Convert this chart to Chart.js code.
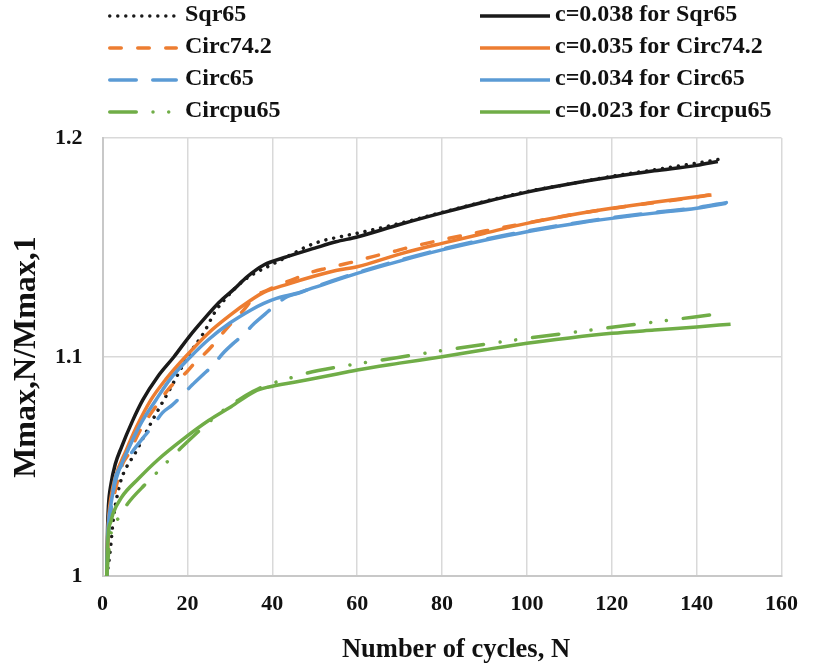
<!DOCTYPE html>
<html lang="en">
<head>
<meta charset="UTF-8">
<title>Mmax,N/Mmax,1 vs number of cycles</title>
<script src="https://cdn.jsdelivr.net/npm/chart.js"></script>
<style>
    html, body { margin: 0; padding: 0; background: #fff; }
    #wrap { width: 813px; height: 670px; }
</style>
</head>
<body>
<div id="wrap"><canvas id="chart" width="813" height="670"></canvas></div>
<script>
// series labels (legend order, read row by row)
const seriesLabels = [
    'Sqr65', 'c=0.038 for Sqr65',
    'Circ74.2', 'c=0.035 for Circ74.2',
    'Circ65', 'c=0.034 for Circ65',
    'Circpu65', 'c=0.023 for Circpu65'
];

// Sqr65 test (dotted) and its fit
const sqr65N = [1, 1.6, 2, 2.5, 3, 3.5, 4.5, 7.9, 11.8, 16, 20.3, 24, 26.5, 29.6, 32.7, 35.8, 38.9, 42, 45.1, 48.1, 51.2, 55, 60, 70, 80, 90, 100, 110, 120, 130, 140, 146];
const sqr65M = [1.0, 1.008, 1.015, 1.025, 1.032, 1.037, 1.0446, 1.0568, 1.0712, 1.0857, 1.1009, 1.1115, 1.1205, 1.128, 1.134, 1.1382, 1.1412, 1.1443, 1.1474, 1.1504, 1.1527, 1.1545, 1.1565, 1.161, 1.166, 1.171, 1.1755, 1.179, 1.1825, 1.1855, 1.1885, 1.1905];
const fitSqr65N = [1, 1.2, 1.4, 2, 3, 4.5, 7, 9.5, 13, 16.8, 20.3, 24, 27.5, 31, 34, 38, 43.5, 50, 55, 60, 70, 80, 90, 100, 110, 120, 130, 140, 145];
const fitSqr65M = [1.0, 1.022, 1.032, 1.042, 1.051, 1.059, 1.0705, 1.0804, 1.091, 1.1, 1.109, 1.1175, 1.125, 1.131, 1.1365, 1.142, 1.1458, 1.1497, 1.1526, 1.1548, 1.1605, 1.1658, 1.1708, 1.1753, 1.179, 1.1822, 1.185, 1.1875, 1.1893];

// Circ74.2 test (dashed) and its fit
const circ742N = [1, 1.3, 2, 3, 4.8, 6, 9, 13.7, 15.7, 19.9, 23, 24.2, 29.6, 33.5, 35.8, 38.9, 43.5, 46.6, 49.7, 52.8, 56, 59.3, 62, 65.2, 68.3, 71.3, 80, 90, 100, 110, 120, 130, 140, 144.5];
const circ742M = [1.0, 1.015, 1.029, 1.039, 1.0514, 1.0553, 1.067, 1.0804, 1.0857, 1.0933, 1.1, 1.1017, 1.1138, 1.122, 1.1275, 1.1306, 1.1344, 1.1367, 1.139, 1.1405, 1.142, 1.1435, 1.145, 1.1466, 1.148, 1.1496, 1.1535, 1.1575, 1.1612, 1.1648, 1.1678, 1.1705, 1.173, 1.1745];
const fitCirc742N = [1, 1.2, 1.5, 2, 3, 5.6, 8, 11.4, 15, 19.5, 25, 30, 35, 38, 43.5, 50, 55, 60, 70, 80, 90, 100, 110, 120, 130, 140, 143.5];
const fitCirc742M = [1.0, 1.018, 1.028, 1.036, 1.045, 1.0575, 1.068, 1.0804, 1.09, 1.1, 1.111, 1.119, 1.126, 1.1295, 1.1332, 1.137, 1.1395, 1.1412, 1.147, 1.1519, 1.1565, 1.161, 1.1647, 1.1679, 1.1707, 1.1732, 1.174];

// Circ65 test (long dash) and its fit
const circ65N = [1, 1.3, 2, 2.9, 4, 5.6, 7.3, 9.5, 11.6, 14.1, 16.4, 18.7, 21.1, 23.6, 26.1, 28.4, 30.7, 33.1, 35.8, 38.3, 40.8, 43.5, 46.6, 50, 60, 70, 80, 90, 100, 110, 120, 130, 140, 147];
const circ65M = [1.0, 1.015, 1.03, 1.0438, 1.049, 1.053, 1.0575, 1.063, 1.0678, 1.0745, 1.078, 1.0823, 1.0872, 1.0918, 1.0963, 1.1017, 1.106, 1.11, 1.1154, 1.1196, 1.1238, 1.1275, 1.1294, 1.132, 1.1385, 1.1442, 1.1493, 1.1537, 1.1575, 1.1608, 1.1636, 1.166, 1.1682, 1.1705];
const fitCirc65N = [1, 1.2, 1.5, 2, 3, 6, 9, 12.6, 16, 20.7, 25, 30, 35, 38, 41, 45.8, 50, 60, 70, 80, 90, 100, 110, 120, 130, 140, 147];
const fitCirc65M = [1.0, 1.017, 1.026, 1.033, 1.043, 1.0575, 1.0695, 1.0804, 1.09, 1.1, 1.108, 1.1155, 1.1215, 1.1245, 1.1268, 1.1291, 1.1318, 1.1382, 1.1438, 1.1489, 1.1533, 1.1572, 1.1605, 1.1633, 1.1657, 1.1679, 1.1702];

// Circpu65 test (long dash dot dot) and its fit
const circpu65N = [1, 1.5, 2.1, 3.9, 6, 10.3, 13, 15.7, 18.4, 23, 25.9, 28.8, 32, 35.4, 37.7, 41.2, 44.7, 48.1, 55.1, 65.8, 79.9, 97.3, 115, 132.6, 146.5];
const circpu65M = [1.0, 1.012, 1.0203, 1.0268, 1.0332, 1.0423, 1.0476, 1.053, 1.0583, 1.0667, 1.0716, 1.0761, 1.0803, 1.0842, 1.0864, 1.0887, 1.0907, 1.0926, 1.0953, 1.0986, 1.1029, 1.1078, 1.1123, 1.1166, 1.12];
const fitCircpu65N = [1, 1.15, 1.35, 2, 2.5, 4.5, 8.5, 13, 19, 25, 30.3, 35.8, 38.9, 45.8, 55.3, 60, 70, 80, 90, 100, 110, 120, 130, 140, 148];
const fitCircpu65M = [1.0, 1.01, 1.019, 1.025, 1.0286, 1.036, 1.0445, 1.053, 1.0625, 1.071, 1.0773, 1.0842, 1.0862, 1.0887, 1.0922, 1.0941, 1.0972, 1.1001, 1.1033, 1.1063, 1.1087, 1.1108, 1.1123, 1.1137, 1.115];

// axis ticks and titles
const xMin = 0, xMax = 160, xStep = 20;
const yMin = 1, yMax = 1.2, yStep = 0.1;
const xTitle = 'Number of cycles, N';
const yTitle = 'Mmax,N/Mmax,1';

function pts(xs, ys) {
    return xs.map((x, i) => ({ x: x, y: ys[i] }));
}

const BLACK = '#1a1a1a';
const ORANGE = '#ED7D31';
const BLUE = '#5B9BD5';
const GREEN = '#70AD47';
const TEXT = '#111';
const serif = '"Liberation Serif", "Times New Roman", serif';

function series(i, xs, ys, color, dash) {
    return {
        label: seriesLabels[i],
        data: pts(xs, ys),
        borderColor: color,
        backgroundColor: color,
        borderWidth: 3.5,
        borderDash: dash,
        borderCapStyle: dash.length ? 'round' : 'butt',
        fill: false,
        order: 7 - i
    };
}

const datasets = [
    series(0, sqr65N, sqr65M, BLACK, [0.01, 8]),
    series(1, fitSqr65N, fitSqr65M, BLACK, []),
    series(2, circ742N, circ742M, ORANGE, [11.5, 16.5]),
    series(3, fitCirc742N, fitCirc742M, ORANGE, []),
    series(4, circ65N, circ65M, BLUE, [26.5, 16.5]),
    series(5, fitCirc65N, fitCirc65M, BLUE, []),
    series(6, circpu65N, circpu65M, GREEN, [26.5, 16.75, 0.01, 15.7, 0.01, 17]),
    series(7, fitCircpu65N, fitCircpu65M, GREEN, [])
];

// two-column legend above the plot, plus the x title which sits a bit right of centre
const chartDecor = {
    id: 'chartDecor',
    afterDraw(chart) {
        const ctx = chart.ctx;
        const cols = [{ x: 108, tx: 185 }, { x: 480, tx: 555 }];
        ctx.save();
        chart.data.datasets.forEach((ds, i) => {
            const c = cols[i % 2];
            const y = 16 + Math.floor(i / 2) * 32;
            const inset = ds.borderCapStyle === 'round' ? ds.borderWidth / 2 : 0;
            ctx.beginPath();
            ctx.strokeStyle = ds.borderColor;
            ctx.lineWidth = ds.borderWidth;
            ctx.lineCap = ds.borderCapStyle;
            ctx.setLineDash(ds.borderDash);
            ctx.moveTo(c.x + inset, y);
            ctx.lineTo(c.x + 70 - inset, y);
            ctx.stroke();
            ctx.setLineDash([]);
            ctx.fillStyle = TEXT;
            ctx.font = 'bold 24px ' + serif;
            ctx.textBaseline = 'middle';
            ctx.textAlign = 'left';
            ctx.fillText(ds.label, c.tx, y - 1);
        });

        const area = chart.chartArea;
        ctx.fillStyle = TEXT;
        ctx.font = 'bold 26.5px ' + serif;
        ctx.textAlign = 'center';
        ctx.textBaseline = 'middle';
        ctx.fillText(xTitle, (area.left + area.right) / 2 + 14, 650);
        ctx.restore();
    }
};

new Chart(document.getElementById('chart'), {
    type: 'line',
    data: { datasets: datasets },
    plugins: [chartDecor],
    options: {
        responsive: false,
        animation: false,
        layout: { padding: { top: 138, left: 7, right: 21, bottom: 0 } },
        plugins: {
            legend: { display: false },
            tooltip: { enabled: false }
        },
        elements: {
            point: { radius: 0 },
            line: { cubicInterpolationMode: 'monotone' }
        },
        scales: {
            x: {
                type: 'linear',
                min: xMin,
                max: xMax,
                ticks: {
                    stepSize: xStep,
                    padding: 15,
                    color: TEXT,
                    font: { family: serif, size: 22, weight: 'bold' }
                },
                grid: { color: '#d9d9d9', lineWidth: 1.5, drawTicks: false },
                border: { color: '#c8c8c8', width: 2 },
                afterFit(scale) { scale.height = 94; }
            },
            y: {
                type: 'linear',
                min: yMin,
                max: yMax,
                ticks: {
                    stepSize: yStep,
                    padding: 20,
                    color: TEXT,
                    font: { family: serif, size: 22, weight: 'bold' },
                    callback: v => Number(v.toFixed(1)).toString()
                },
                grid: { color: '#d9d9d9', lineWidth: 1.5, drawTicks: false },
                border: { color: '#c8c8c8', width: 2 },
                title: {
                    display: true,
                    text: yTitle,
                    color: TEXT,
                    padding: { top: 1, bottom: 4 },
                    font: { family: serif, size: 32, weight: 'bold' }
                },
                afterFit(scale) { scale.width = 95.5; }
            }
        }
    }
});
</script>
</body>
</html>
